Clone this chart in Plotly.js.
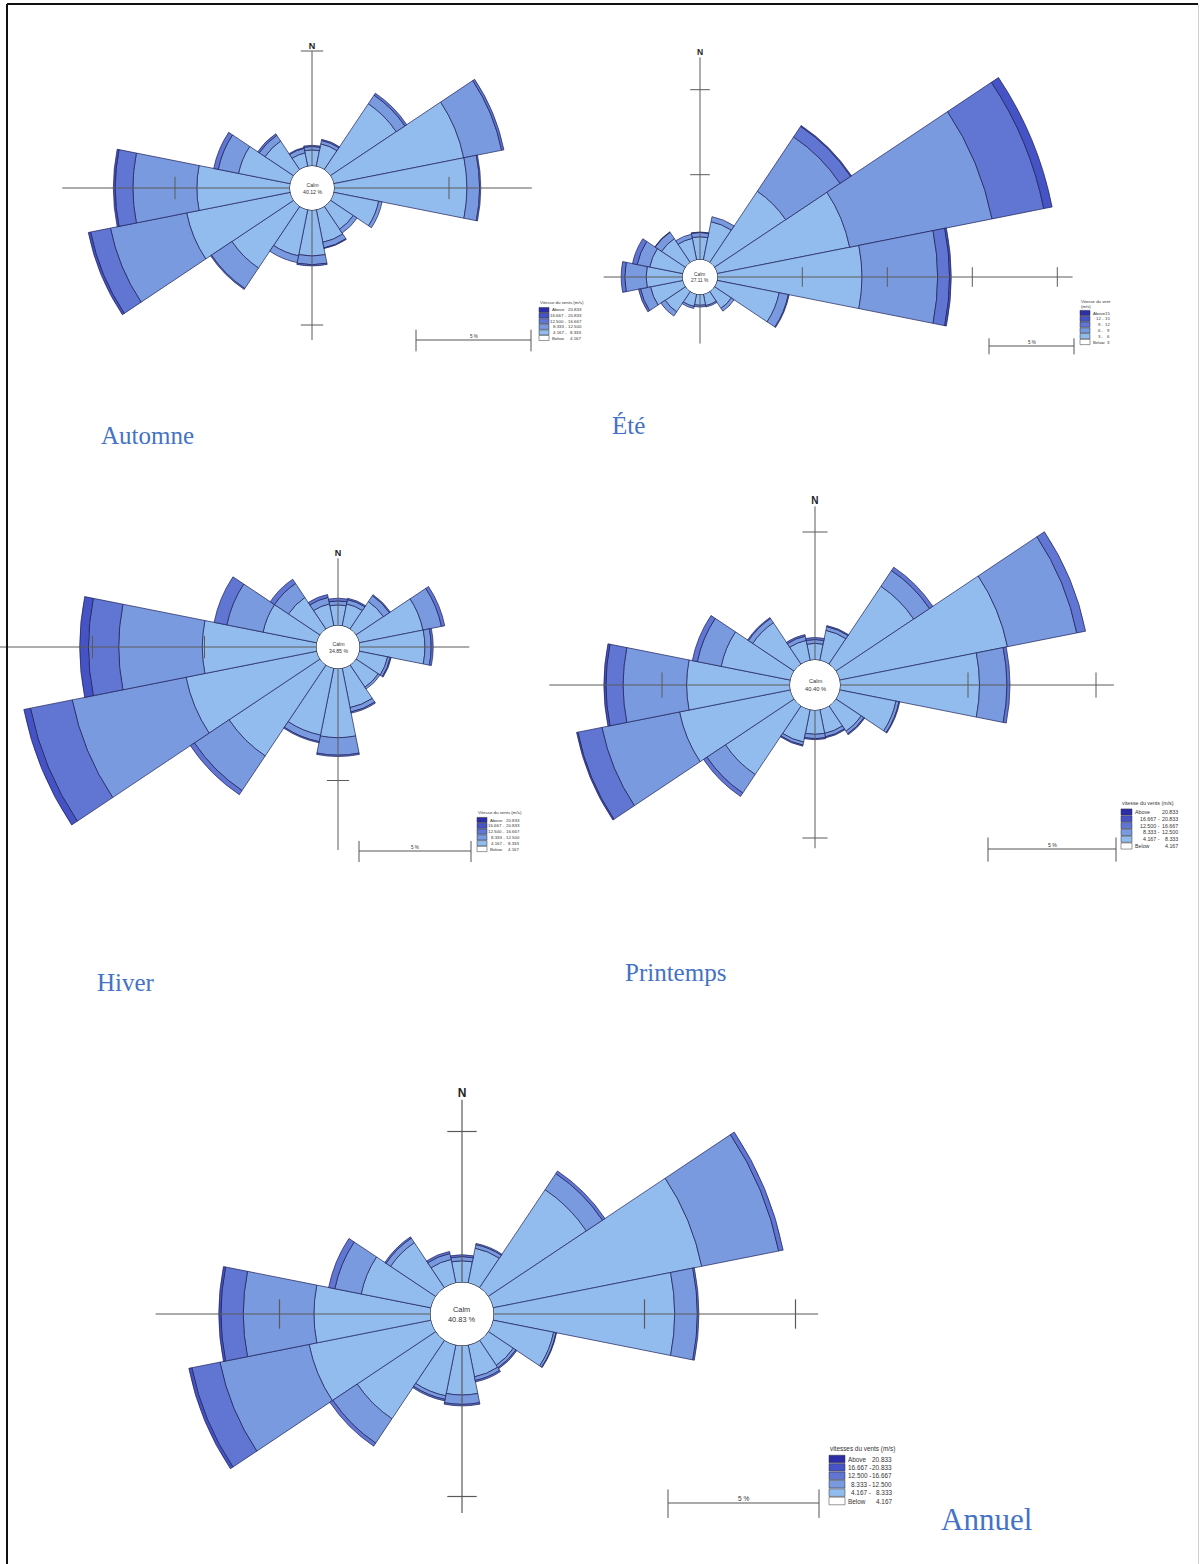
<!DOCTYPE html>
<html>
<head>
<meta charset="utf-8">
<script src="https://cdn.plot.ly/plotly-3.0.1.min.js"></script>
<style>
  html, body { margin: 0; padding: 0; background: #fff; overflow: hidden; width: 1200px; height: 1564px; }
  #roses { position: absolute; left: -200px; top: -200px; }
</style>
</head>
<body>
<div id="roses"></div>
<script>
// Wind directions (degrees clockwise from north) and their names
const directions = [0, 22.5, 45, 67.5, 90, 112.5, 135, 157.5, 180, 202.5, 225, 247.5, 270, 292.5, 315, 337.5];
const dirNames = ['N', 'NNE', 'NE', 'ENE', 'E', 'ESE', 'SE', 'SSE', 'S', 'SSW', 'SW', 'WSW', 'W', 'WNW', 'NW', 'NNW'];

// Speed classes (m/s), lightest to strongest
const speedClasses = ['4.167 - 8.333', '8.333 - 12.500', '12.500 - 16.667', '16.667 - 20.833', 'Above 20.833'];
const speedClassesEte = ['3 - 6', '6 - 9', '9 - 12', '12 - 15', 'Above 15'];

// Legend rows, top to bottom
const legendRows = [['Above', '20.833'], ['16.667 -', '20.833'], ['12.500 -', '16.667'], ['8.333 -', '12.500'], ['4.167 -', '8.333'], ['Below', '4.167']];
const legendRowsEte = [['Above', '15'], ['12 -', '15'], ['9 -', '12'], ['6 -', '9'], ['3 -', '6'], ['Below', '3']];

// Calm frequencies (%)
const calmAutomne = 40.12;
const calmEte = 27.11;
const calmHiver = 34.85;
const calmPrintemps = 40.40;
const calmAnnuel = 40.83;

// Automne: frequency (%) per direction and speed class
const automneC1 = [0.70, 1.00, 3.45, 5.77, 5.78, 2.00, 1.20, 1.45, 2.00, 2.05, 3.23, 4.60, 4.05, 2.30, 1.50, 0.60];
const automneC2 = [0.15, 0.15, 0.45, 1.68, 0.55, 0.15, 0.20, 0.25, 0.38, 0.30, 1.07, 3.38, 2.78, 0.90, 0.30, 0.20];
const automneC3 = [0.05, 0.05, 0.10, 0.10, 0.05, 0.00, 0.00, 0.03, 0.05, 0.00, 0.05, 0.88, 0.77, 0.20, 0.08, 0.04];
const automneC4 = [0, 0, 0, 0, 0, 0, 0, 0, 0, 0, 0, 0.10, 0.08, 0, 0, 0];
const automneC5 = [0, 0, 0, 0, 0, 0, 0, 0, 0, 0, 0, 0, 0, 0, 0, 0];

// Été
const eteC1 = [1.35, 2.30, 5.05, 7.96, 8.51, 3.73, 1.20, 0.70, 0.65, 0.75, 1.45, 1.95, 2.15, 2.00, 1.70, 1.30];
const eteC2 = [0.25, 0.30, 3.84, 8.54, 4.45, 0.55, 0.20, 0.08, 0.10, 0.12, 0.30, 0.60, 1.26, 0.75, 0.45, 0.25];
const eteC3 = [0.03, 0.00, 0.75, 3.10, 0.70, 0.05, 0.00, 0.00, 0.00, 0.00, 0.00, 0.12, 0.21, 0.28, 0.03, 0.00];
const eteC4 = [0, 0, 0.06, 0.50, 0.10, 0, 0, 0, 0, 0, 0, 0, 0, 0, 0, 0];
const eteC5 = [0, 0, 0, 0, 0, 0, 0, 0, 0, 0, 0, 0, 0, 0, 0, 0];

// Hiver
const hiverC1 = [0.92, 1.00, 1.48, 2.91, 2.92, 1.30, 1.20, 1.80, 3.09, 3.05, 4.89, 5.96, 5.10, 2.45, 1.70, 1.00];
const hiverC2 = [0.18, 0.20, 0.32, 0.84, 0.28, 0.12, 0.10, 0.20, 0.78, 0.30, 1.86, 5.18, 3.73, 1.65, 0.75, 0.30];
const hiverC3 = [0.12, 0.06, 0.05, 0.15, 0.09, 0.04, 0.00, 0.05, 0.06, 0.05, 0.22, 1.90, 1.35, 0.58, 0.23, 0.13];
const hiverC4 = [0, 0, 0, 0, 0, 0, 0, 0, 0, 0, 0, 0.30, 0.39, 0, 0, 0];
const hiverC5 = [0, 0, 0, 0, 0, 0, 0, 0, 0, 0, 0, 0, 0, 0, 0, 0];

// Printemps
const printempsC1 = [0.65, 1.20, 3.66, 6.69, 5.45, 2.25, 1.20, 0.95, 0.95, 1.30, 3.23, 4.42, 4.04, 2.76, 1.95, 0.80];
const printempsC2 = [0.15, 0.15, 0.74, 2.76, 1.07, 0.12, 0.12, 0.14, 0.17, 0.12, 0.87, 3.09, 2.48, 0.95, 0.20, 0.17];
const printempsC3 = [0.08, 0.04, 0.16, 0.35, 0.12, 0.03, 0.04, 0.04, 0.04, 0.04, 0.16, 0.96, 0.67, 0.20, 0.04, 0.06];
const printempsC4 = [0, 0, 0, 0, 0, 0, 0, 0, 0, 0, 0, 0.05, 0.08, 0, 0, 0];
const printempsC5 = [0, 0, 0, 0, 0, 0, 0, 0, 0, 0, 0, 0, 0, 0, 0, 0];

// Annuel
const annuelC1 = [0.72, 1.18, 3.91, 7.05, 6.00, 2.05, 1.00, 1.08, 1.64, 1.72, 3.13, 4.12, 3.86, 2.36, 1.80, 0.80];
const annuelC2 = [0.14, 0.12, 0.64, 2.60, 0.75, 0.08, 0.10, 0.12, 0.31, 0.12, 0.97, 3.01, 2.34, 0.89, 0.18, 0.20];
const annuelC3 = [0.06, 0.04, 0.10, 0.15, 0.05, 0.02, 0.04, 0.05, 0.05, 0.05, 0.12, 0.95, 0.74, 0.21, 0.05, 0.07];
const annuelC4 = [0, 0, 0, 0, 0, 0, 0, 0, 0, 0, 0, 0.10, 0.07, 0, 0, 0];
const annuelC5 = [0, 0, 0, 0, 0, 0, 0, 0, 0, 0, 0, 0, 0, 0, 0, 0];

// Axis-cross lengths (%) towards N, E, S, W
const automneAxes = [5.0, 8.6, 5.65, 9.9];
const eteAxes = [11.9, 20.9, 2.9, 4.65];
const hiverAxes = [3.0, 4.9, 8.1, 15.2];
const printempsAxes = [6.0, 10.7, 5.4, 9.4];
const annuelAxes = [6.05, 10.75, 5.55, 9.1];

// ---------------------------------------------------------------------------
const PAD = 200;
const W = 1200 + 2 * PAD, H = 1564 + 2 * PAD;
const fx = px => (px + PAD) / W;
const fy = py => 1 - (py + PAD) / H;

const classColors = ['#93bcee', '#7a9ae0', '#6076d2', '#4553c4', '#2c2ea8'];
const barEdge = '#1d2058';
const axisGrey = '#5a5a5a';
const legendColors = [classColors[4], classColors[3], classColors[2], classColors[1], classColors[0], '#ffffff'];

const roses = [
  { polar: 'polar', series: [automneC1, automneC2, automneC3, automneC4, automneC5], names: speedClasses,
    calm: calmAutomne, axes: automneAxes,
    cx: 312, cy: 188, hole: 22, ppp: 23, rmax: 10.5, nFont: 9, calmFont: 5.2, tick: 16, axisW: 1,
    legend: { title: ['Vitesse du vents (m/s)'], rows: legendRows, x: 539, ty: 302.5, y0: 310, pitch: 5.6, boxW: 10, right: 583, split: 568, font: 4.4 },
    scale: { x: 416, y: 340, font: 4.6 },
    title: { text: 'Automne', x: 100, y: 436, size: 25 } },
  { polar: 'polar2', series: [eteC1, eteC2, eteC3, eteC4, eteC5], names: speedClassesEte,
    calm: calmEte, axes: eteAxes,
    cx: 700, cy: 277, hole: 17.3, ppp: 17, rmax: 21.5, nFont: 8.5, calmFont: 4.8, tick: 14, axisW: 1,
    legend: { title: ['Vitesse du vent', '(m/s)'], rows: legendRowsEte, x: 1080, ty: 301, y0: 313, pitch: 5.8, boxW: 10, right: 1111, split: 1105, font: 4.3 },
    scale: { x: 989, y: 346, font: 4.6 },
    title: { text: 'Été', x: 611, y: 425, size: 25 } },
  { polar: 'polar3', series: [hiverC1, hiverC2, hiverC3, hiverC4, hiverC5], names: speedClasses,
    calm: calmHiver, axes: hiverAxes,
    cx: 338, cy: 647, hole: 21.5, ppp: 22.4, rmax: 15.5, nFont: 9, calmFont: 5.2, tick: 16, axisW: 1,
    legend: { title: ['Vitesse du vents (m/s)'], rows: legendRows, x: 477, ty: 813, y0: 820, pitch: 5.8, boxW: 10, right: 521, split: 506, font: 4.4 },
    scale: { x: 359, y: 851, font: 4.6 },
    title: { text: 'Hiver', x: 96, y: 982, size: 25 } },
  { polar: 'polar4', series: [printempsC1, printempsC2, printempsC3, printempsC4, printempsC5], names: speedClasses,
    calm: calmPrintemps, axes: printempsAxes,
    cx: 815, cy: 685, hole: 25, ppp: 25.6, rmax: 11.2, nFont: 10, calmFont: 5.8, tick: 18, axisW: 1,
    legend: { title: ['vitesse du vents (m/s)'], rows: legendRows, x: 1121, ty: 803, y0: 812, pitch: 6.8, boxW: 11, right: 1179, split: 1161, font: 5.3 },
    scale: { x: 988, y: 849, font: 5.2 },
    title: { text: 'Printemps', x: 624, y: 972, size: 25 } },
  { polar: 'polar5', series: [annuelC1, annuelC2, annuelC3, annuelC4, annuelC5], names: speedClasses,
    calm: calmAnnuel, axes: annuelAxes,
    cx: 462, cy: 1314, hole: 31.5, ppp: 30.2, rmax: 11.2, nFont: 12, calmFont: 7.4, tick: 21, axisW: 1.2,
    legend: { title: ['vitesses du vents (m/s)'], rows: legendRows, x: 829, ty: 1449, y0: 1459, pitch: 8.4, boxW: 16, right: 893, split: 872, font: 6.4 },
    scale: { x: 668, y: 1503, font: 6.6 },
    title: { text: 'Annuel', x: 940, y: 1519, size: 31 } }
];

const traces = [];
const shapes = [];
const annotations = [];
const layout = {
  width: W, height: H, autosize: false,
  margin: { l: 0, r: 0, t: 0, b: 0, pad: 0 },
  paper_bgcolor: '#ffffff',
  showlegend: false,
  font: { family: 'Liberation Sans, Arial, sans-serif', color: '#222' }
};

const sansFont = 'Liberation Sans, Arial, sans-serif';
const serifFont = 'Liberation Serif, Times New Roman, serif';

// Full circle of angles for the calm ring
const ringTheta = [];
for (let a = 0; a <= 360; a += 4) ringTheta.push(a);

roses.forEach(rose => {
  const R = rose.hole + rose.rmax * rose.ppp;
  layout[rose.polar] = {
    domain: { x: [fx(rose.cx - R), fx(rose.cx + R)], y: [fy(rose.cy + R), fy(rose.cy - R)] },
    hole: rose.hole / R,
    bgcolor: 'rgba(0,0,0,0)',
    barmode: 'stack',
    bargap: 0,
    radialaxis: { visible: false, range: [0, rose.rmax] },
    angularaxis: { visible: false, direction: 'clockwise', rotation: 90 }
  };

  // stacked speed-class wedges (empty classes leave no wedge)
  rose.series.forEach((vals, k) => {
    if (!vals.some(v => v > 0)) return;
    traces.push({
      type: 'barpolar', subplot: rose.polar,
      r: vals.map(v => (v > 0 ? v : null)), theta: directions, width: 22.5,
      name: rose.names[k],
      customdata: dirNames,
      marker: { color: classColors[k], line: { color: barEdge, width: 0.7 } },
      hovertemplate: '%{customdata}: %{r:.2f} %<extra>' + rose.names[k] + '</extra>'
    });
  });

  // axis cross
  const ax = rose.axes;
  traces.push({
    type: 'scatterpolar', subplot: rose.polar, mode: 'lines', cliponaxis: false, hoverinfo: 'skip',
    r: [0, ax[0], null, 0, ax[1], null, 0, ax[2], null, 0, ax[3]],
    theta: [0, 0, null, 90, 90, null, 180, 180, null, 270, 270],
    line: { color: axisGrey, width: rose.axisW }
  });

  // 5 % tick bars along the cross
  const tickNS = { r: [], t: [] }, tickEW = { r: [], t: [] };
  [0, 90, 180, 270].forEach((ang, i) => {
    for (let v = 5; v <= ax[i] + 1e-9; v += 5) {
      const target = (ang === 0 || ang === 180) ? tickNS : tickEW;
      target.r.push(v); target.t.push(ang);
    }
  });
  traces.push({
    type: 'scatterpolar', subplot: rose.polar, mode: 'markers', cliponaxis: false, hoverinfo: 'skip',
    r: tickNS.r, theta: tickNS.t,
    marker: { symbol: 'line-ew', size: rose.tick, line: { color: axisGrey, width: rose.axisW } }
  });
  traces.push({
    type: 'scatterpolar', subplot: rose.polar, mode: 'markers', cliponaxis: false, hoverinfo: 'skip',
    r: tickEW.r, theta: tickEW.t,
    marker: { symbol: 'line-ns', size: rose.tick, line: { color: axisGrey, width: rose.axisW } }
  });

  // north label
  traces.push({
    type: 'scatterpolar', subplot: rose.polar, mode: 'text', cliponaxis: false, hoverinfo: 'skip',
    r: [ax[0]], theta: [0], text: ['<b>N</b>'], textposition: 'top center',
    textfont: { family: sansFont, size: rose.nFont, color: '#222' }
  });

  // calm ring
  traces.push({
    type: 'scatterpolar', subplot: rose.polar, mode: 'lines', cliponaxis: false, hoverinfo: 'skip',
    r: ringTheta.map(() => 0), theta: ringTheta,
    line: { color: '#3a3a3a', width: 0.8 }
  });

  annotations.push({
    xref: 'paper', yref: 'paper', x: fx(rose.cx), y: fy(rose.cy), showarrow: false,
    xanchor: 'center', yanchor: 'middle', align: 'center',
    text: 'Calm<br>' + rose.calm.toFixed(2) + ' %',
    font: { family: sansFont, size: rose.calmFont, color: '#333' }
  });

  // scale bar (5 %)
  const sc = rose.scale, len = 5 * rose.ppp;
  const sx0 = sc.x, sx1 = sc.x + len;
  const tk = len * 0.09;
  [[sx0, sc.y, sx1, sc.y], [sx0, sc.y - tk, sx0, sc.y + tk * 1.1], [sx1, sc.y - tk, sx1, sc.y + tk * 1.1]].forEach(s => {
    shapes.push({ type: 'line', xref: 'paper', yref: 'paper', x0: fx(s[0]), y0: fy(s[1]), x1: fx(s[2]), y1: fy(s[3]),
      line: { color: '#555', width: 1 } });
  });
  annotations.push({
    xref: 'paper', yref: 'paper', x: fx((sx0 + sx1) / 2), y: fy(sc.y - 0.5), showarrow: false,
    xanchor: 'center', yanchor: 'bottom', text: '5 %', borderpad: 0,
    font: { family: sansFont, size: sc.font, color: '#333' }
  });

  // speed legend
  const lg = rose.legend;
  lg.title.forEach((line, i) => {
    annotations.push({
      xref: 'paper', yref: 'paper', x: fx(lg.x), y: fy(lg.ty + i * lg.font * 1.3), showarrow: false,
      xanchor: 'left', yanchor: 'middle', text: line, borderpad: 0,
      font: { family: sansFont, size: lg.font, color: '#333' }
    });
  });
  lg.rows.forEach((row, i) => {
    const yc = lg.y0 + i * lg.pitch;
    shapes.push({
      type: 'rect', xref: 'paper', yref: 'paper',
      x0: fx(lg.x), x1: fx(lg.x + lg.boxW), y0: fy(yc - lg.pitch * 0.45), y1: fy(yc + lg.pitch * 0.45),
      fillcolor: legendColors[i], line: { color: '#333', width: 0.5 }
    });
    const edge = (i === 0 || i === lg.rows.length - 1);
    annotations.push({
      xref: 'paper', yref: 'paper', showarrow: false, borderpad: 0,
      x: edge ? fx(lg.x + lg.boxW + 1.5) : fx(lg.split), y: fy(yc),
      xanchor: edge ? 'left' : 'right', yanchor: 'middle', text: row[0],
      font: { family: sansFont, size: lg.font, color: '#333' }
    });
    annotations.push({
      xref: 'paper', yref: 'paper', showarrow: false, borderpad: 0,
      x: fx(lg.right), y: fy(yc), xanchor: 'right', yanchor: 'middle', text: row[1],
      font: { family: sansFont, size: lg.font, color: '#333' }
    });
  });

  // season title
  annotations.push({
    xref: 'paper', yref: 'paper', x: fx(rose.title.x), y: fy(rose.title.y), showarrow: false,
    xanchor: 'left', yanchor: 'middle', text: rose.title.text, borderpad: 0,
    font: { family: serifFont, size: rose.title.size, color: '#4472c4' }
  });
});

// page frame
shapes.push({ type: 'line', xref: 'paper', yref: 'paper', x0: fx(7), y0: fy(4), x1: fx(1198), y1: fy(4), line: { color: '#111', width: 2 } });
shapes.push({ type: 'line', xref: 'paper', yref: 'paper', x0: fx(7), y0: fy(4), x1: fx(7), y1: fy(1570), line: { color: '#111', width: 2 } });
shapes.push({ type: 'line', xref: 'paper', yref: 'paper', x0: fx(1198.5), y0: fy(4), x1: fx(1198.5), y1: fy(1570), line: { color: '#cfcfcf', width: 1 } });

layout.shapes = shapes;
layout.annotations = annotations;

Plotly.newPlot('roses', traces, layout, { displayModeBar: false, staticPlot: true });
</script>
</body>
</html>
